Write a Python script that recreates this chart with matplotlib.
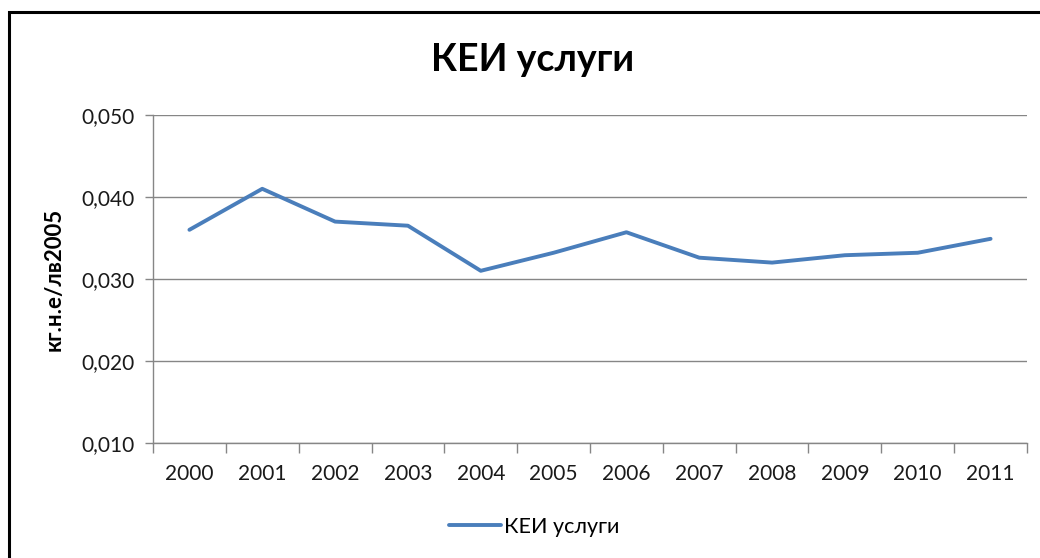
import matplotlib.pyplot as plt
from matplotlib.patches import Rectangle
from matplotlib.ticker import FuncFormatter, FixedLocator

plt.rcParams['font.family'] = ['Lato', 'DejaVu Sans']

# data
years = ['2000', '2001', '2002', '2003', '2004', '2005',
         '2006', '2007', '2008', '2009', '2010', '2011']
kei_services = [0.0360, 0.0410, 0.0370, 0.0365, 0.0310, 0.0332,
                0.0357, 0.0326, 0.0320, 0.0329, 0.0332, 0.0349]
series_name = 'КЕИ услуги'
y_label = 'кг.н.е/лв2005'

fig = plt.figure(figsize=(10.4, 5.58), dpi=100)
ax = fig.add_axes([153 / 1040, 1 - 443 / 558, (1027 - 153) / 1040, (443 - 115) / 558])

x = list(range(len(years)))
ax.plot(x, kei_services, color='#4a7ebb', linewidth=2.8, label=series_name,
        solid_capstyle='round', solid_joinstyle='round')

ax.set_xlim(-0.5, len(years) - 0.5)
ax.set_ylim(0.010, 0.050)
ax.set_yticks([0.010, 0.020, 0.030, 0.040, 0.050])
ax.yaxis.set_major_formatter(FuncFormatter(lambda v, p: f'{v:.3f}'.replace('.', ',')))
ax.set_xticks(x)
ax.set_xticklabels(years)
ax.xaxis.set_minor_locator(FixedLocator([i - 0.5 for i in range(len(years) + 1)]))

ax.grid(axis='y', color='#868686', linewidth=1)
ax.set_axisbelow(True)
for side in ['top', 'right']:
    ax.spines[side].set_visible(False)
for side in ['left', 'bottom']:
    ax.spines[side].set_color('#868686')
    ax.spines[side].set_linewidth(1)

ax.tick_params(axis='x', which='major', length=0, pad=15, labelsize=15, colors='#1a1a1a')
ax.tick_params(axis='x', which='minor', length=7, color='#868686', width=1)
ax.tick_params(axis='y', length=6, color='#868686', width=1, pad=7, labelsize=15, colors='#1a1a1a')

ax.set_ylabel(y_label, fontsize=16, fontweight='bold', labelpad=12)
fig.text(0.512, 1 - 60 / 558, series_name, fontsize=27, fontweight='bold',
         ha='center', va='center')

leg = ax.legend(loc='center', bbox_to_anchor=(0.436, -0.255), frameon=False,
                fontsize=15.5, handlelength=2.4, handletextpad=0.15)

# chart border (only left and top are visible in the crop)
fig.patches.append(Rectangle((8.5 / 1040, -0.1), 1.2, 1.1 - 12.5 / 558,
                             transform=fig.transFigure, fill=False,
                             edgecolor='black', linewidth=2.2))

fig.savefig('out.png', dpi=100)
